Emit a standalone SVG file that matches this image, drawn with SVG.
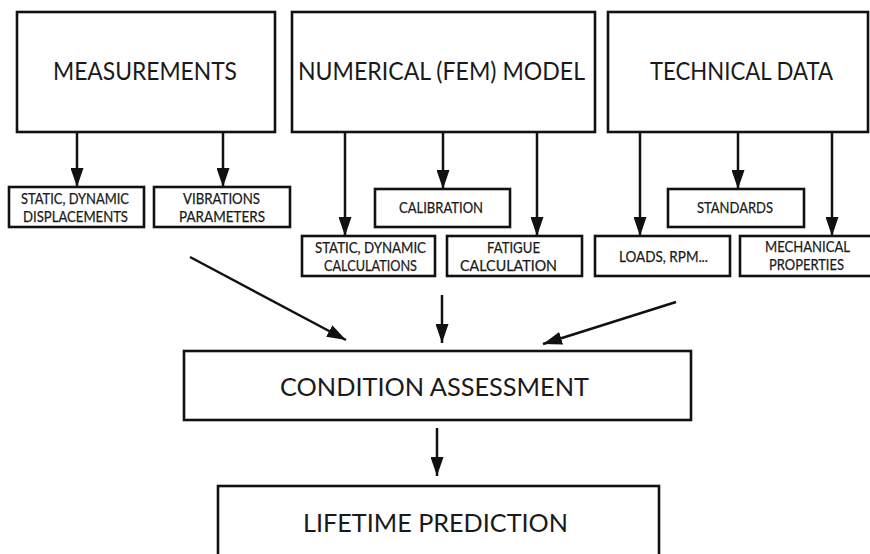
<svg xmlns="http://www.w3.org/2000/svg" width="870" height="554" viewBox="0 0 870 554">
  <style>
    .box { fill: #ffffff; stroke: #111111; stroke-width: 2.6; }
    .title { font-family: Lato, "Open Sans", "Liberation Sans", sans-serif; font-size: 24.5px; fill: #1a1a1a; text-anchor: middle; }
    .small { font-family: Lato, "Open Sans", "Liberation Sans", sans-serif; font-size: 15px; fill: #1a1a1a; text-anchor: middle; stroke: #1a1a1a; stroke-width: 0.25; }
    .edge { stroke: #111111; stroke-width: 2.5; fill: none; marker-end: url(#head); }
  </style>
  <defs>
    <marker id="head" markerUnits="userSpaceOnUse" markerWidth="19" markerHeight="13" refX="19" refY="6.5" orient="auto">
      <path d="M0,0 L19,6.5 L0,13 z" fill="#111111"/>
    </marker>
  </defs>
  <rect width="870" height="554" fill="#ffffff"/>

  <!-- top-level sources -->
  <g id="measurements">
    <rect class="box" x="17" y="12" width="258" height="120"/>
    <text class="title" x="145" y="80" textLength="184" lengthAdjust="spacingAndGlyphs">MEASUREMENTS</text>
  </g>
  <g id="fem-model">
    <rect class="box" x="292" y="12" width="303" height="120"/>
    <text class="title" x="441.5" y="80" textLength="287" lengthAdjust="spacingAndGlyphs">NUMERICAL (FEM) MODEL</text>
  </g>
  <g id="technical-data">
    <rect class="box" x="608" y="12" width="260" height="120"/>
    <text class="title" x="741.5" y="80" textLength="183" lengthAdjust="spacingAndGlyphs">TECHNICAL DATA</text>
  </g>

  <!-- measurement outputs -->
  <g id="displacements">
    <rect class="box" x="9" y="187" width="135" height="40"/>
    <text class="small" x="75" y="204" textLength="108" lengthAdjust="spacingAndGlyphs">STATIC, DYNAMIC</text>
    <text class="small" x="75.5" y="222" textLength="105" lengthAdjust="spacingAndGlyphs">DISPLACEMENTS</text>
  </g>
  <g id="vibrations">
    <rect class="box" x="154" y="187" width="136" height="40"/>
    <text class="small" x="221.5" y="204" textLength="77" lengthAdjust="spacingAndGlyphs">VIBRATIONS</text>
    <text class="small" x="222" y="222" textLength="86" lengthAdjust="spacingAndGlyphs">PARAMETERS</text>
  </g>

  <!-- model outputs -->
  <g id="calibration">
    <rect class="box" x="375" y="189" width="135" height="38"/>
    <text class="small" x="441" y="213" textLength="84" lengthAdjust="spacingAndGlyphs">CALIBRATION</text>
  </g>
  <g id="calculations">
    <rect class="box" x="302" y="236" width="133" height="40"/>
    <text class="small" x="370.5" y="253" textLength="111" lengthAdjust="spacingAndGlyphs">STATIC, DYNAMIC</text>
    <text class="small" x="370.5" y="271" textLength="93" lengthAdjust="spacingAndGlyphs">CALCULATIONS</text>
  </g>
  <g id="fatigue">
    <rect class="box" x="447" y="236" width="135" height="40"/>
    <text class="small" x="513.5" y="253" textLength="53" lengthAdjust="spacingAndGlyphs">FATIGUE</text>
    <text class="small" x="508.5" y="271" textLength="97" lengthAdjust="spacingAndGlyphs">CALCULATION</text>
  </g>

  <!-- technical data outputs -->
  <g id="standards">
    <rect class="box" x="668" y="189" width="136" height="38"/>
    <text class="small" x="735" y="213" textLength="76" lengthAdjust="spacingAndGlyphs">STANDARDS</text>
  </g>
  <g id="loads">
    <rect class="box" x="595" y="236" width="135" height="40"/>
    <text class="small" x="663.5" y="262" textLength="89" lengthAdjust="spacingAndGlyphs">LOADS, RPM...</text>
  </g>
  <g id="mechanical">
    <rect class="box" x="740" y="236" width="140" height="40"/>
    <text class="small" x="807.5" y="252" textLength="85" lengthAdjust="spacingAndGlyphs">MECHANICAL</text>
    <text class="small" x="806.5" y="270" textLength="75" lengthAdjust="spacingAndGlyphs">PROPERTIES</text>
  </g>

  <!-- assessment chain -->
  <g id="condition-assessment">
    <rect class="box" x="184" y="351" width="507" height="69"/>
    <text class="title" x="434.5" y="396" textLength="309" lengthAdjust="spacingAndGlyphs">CONDITION ASSESSMENT</text>
  </g>
  <g id="lifetime-prediction">
    <rect class="box" x="218" y="486" width="441" height="90"/>
    <text class="title" x="435.5" y="532" textLength="265" lengthAdjust="spacingAndGlyphs">LIFETIME PREDICTION</text>
  </g>

  <g id="connectors">
    <line class="edge" x1="77" y1="132" x2="77" y2="187"/>
    <line class="edge" x1="223" y1="132" x2="223" y2="187"/>
    <line class="edge" x1="345" y1="132" x2="345" y2="236"/>
    <line class="edge" x1="443" y1="132" x2="443" y2="189"/>
    <line class="edge" x1="537" y1="132" x2="537" y2="236"/>
    <line class="edge" x1="640" y1="132" x2="640" y2="236"/>
    <line class="edge" x1="738" y1="132" x2="738" y2="189"/>
    <line class="edge" x1="832" y1="132" x2="832" y2="236"/>
    <line class="edge" x1="190" y1="257" x2="346" y2="340"/>
    <line class="edge" x1="442" y1="295" x2="442" y2="343"/>
    <line class="edge" x1="676" y1="302" x2="543" y2="344"/>
    <line class="edge" x1="437" y1="428" x2="437" y2="476"/>
  </g>
</svg>
